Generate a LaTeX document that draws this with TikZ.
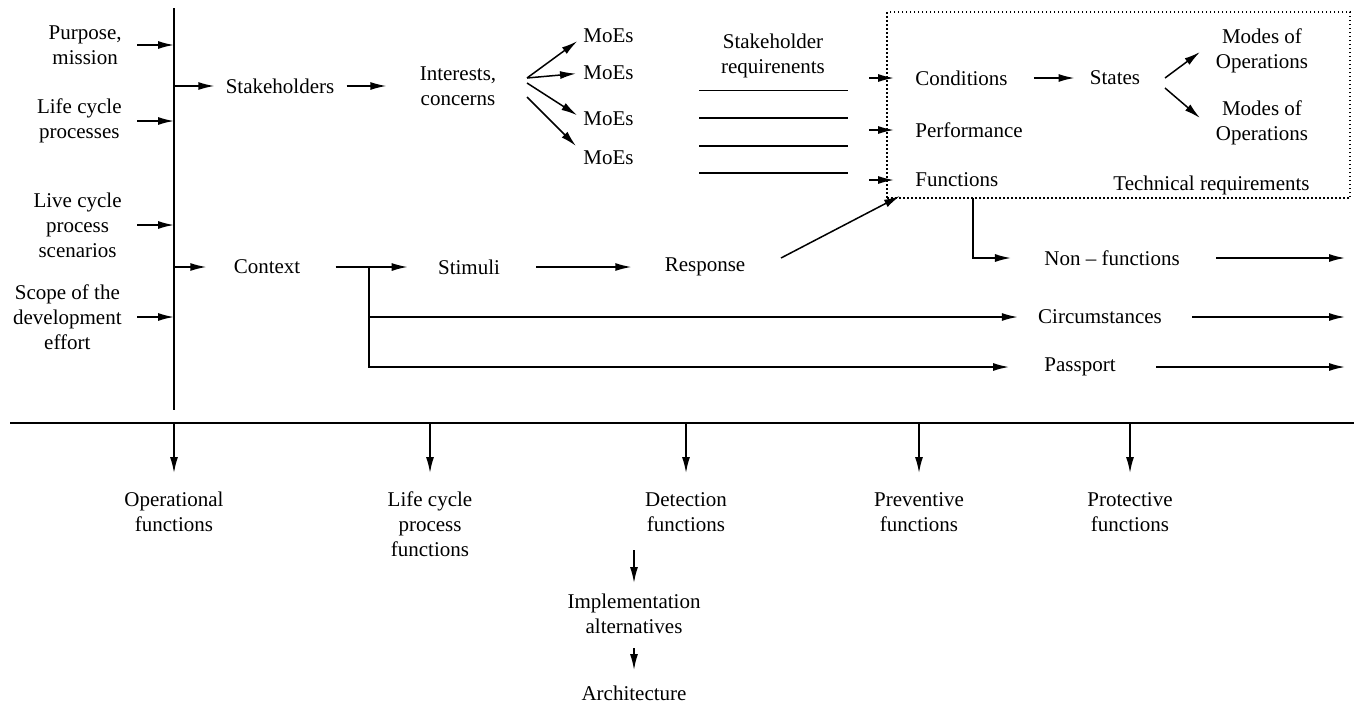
\documentclass[tikz,border=0pt]{standalone}
\usepackage{fontspec}
\setmainfont{Liberation Serif}
\usetikzlibrary{arrows.meta}
\begin{document}
\begin{tikzpicture}[x=0.5pt,y=-0.5pt,
  txt/.style={font=\fontsize{10.5}{12.5}\selectfont, inner sep=0pt, align=center},
  ln/.style={line width=0.75pt},
  arr/.style={ln,-{Latex[length=8pt,width=4pt]}}]
\useasboundingbox (0,0) rectangle (1354,702);

% bus lines
\coordinate (busT) at (174,8);
\coordinate (busB) at (174,410);
\draw[ln] (busT) -- (busB);
\coordinate (hL) at (10,423);
\coordinate (hR) at (1354,423);
\draw[line width=1.2pt] (hL) -- (hR);

% left inputs
\node[txt, anchor=east] (purpose) at (122,45) {Purpose,\\mission};
\node[txt, anchor=east] (lcp) at (122,121) {Life cycle\\processes};
\node[txt, anchor=east] (lcs) at (122,225) {Live cycle\\process\\scenarios};
\node[txt, anchor=east] (scope) at (122,317) {Scope of the\\development\\effort};
\foreach \n in {purpose,lcp,lcs,scope}
  \draw[arr, shorten <=7.5pt] (\n.east) -- (\n.east -| busT);

% stakeholders row
\node[txt] (stake) at (280,86) {Stakeholders};
\node[txt] (inter) at (458,86) {Interests,\\concerns};
\draw[arr, shorten >=5.5pt] (stake -| busT) -- (stake.west);
\draw[arr, shorten <=6pt, shorten >=16.5pt] (stake.east) -- (inter.west);

\node[txt, anchor=west] (m1) at (583,36) {MoEs};
\node[txt, anchor=west] (m2) at (583,73) {MoEs};
\node[txt, anchor=west] (m3) at (583,119) {MoEs};
\node[txt, anchor=west] (m4) at (583,158) {MoEs};
\coordinate (f1) at (527,78);
\coordinate (f3) at (527,83);
\coordinate (f4) at (527,97);
\draw[arr, shorten >=3.5pt] (f1) -- ([yshift=-0.5pt]m1.west);
\draw[arr, shorten >=3.5pt] (f1) -- (m2.west);
\draw[arr, shorten >=3.5pt] (f3) -- (m3.west);
\draw[arr] (f4) -- (576,146);

\node[txt] (sreq) at (773,56) {Stakeholder\\requirenents};
\foreach \yy in {90.5,118,146,173}
  \draw[ln] (699,\yy) -- (848,\yy);

% technical requirements box
\node[draw, ln, dash pattern=on 0.75pt off 1.25pt, inner sep=0pt, minimum width=231.5pt, minimum height=93pt] (tbox) at (1118.5,105) {};
\node[txt, anchor=west] (cond) at (915,78) {Conditions};
\node[txt, anchor=west] (perf) at (915,130) {Performance};
\node[txt, anchor=west] (fun) at (915,180) {Functions};
\node[txt] (states) at (1115,78) {States};
\node[txt] (mo1) at (1262,51) {Modes of\\Operations};
\node[txt] (mo2) at (1262,123) {Modes of\\Operations};
\node[txt, anchor=east] (treq) at (1310,185) {Technical requirements};
\foreach \n in {cond,perf,fun}
  \draw[arr] ([xshift=-23pt]\n.west) -- ([xshift=-10.5pt]\n.west);
\draw[arr, shorten <=13pt, shorten >=7.5pt] (cond.east) -- (states.west);
\coordinate (s1) at (1165,78);
\coordinate (s2) at (1165,88);
\draw[arr] (s1) -- (1200,52);
\draw[arr] (s2) -- (1200,118);

% context row
\node[txt] (ctx) at (267,267) {Context};
\node[txt] (stim) at (469,267) {Stimuli};
\node[txt] (resp) at (705,267) {Response};
\draw[arr, shorten >=13.5pt] (ctx -| busT) -- (ctx.west);
\draw[arr, shorten <=17.5pt, shorten >=15pt] (ctx.east) -- (stim.west);
\draw[arr, shorten <=18pt, shorten >=16.5pt] (stim.east) -- (resp.west);
\coordinate (rs) at (781,258);
\coordinate (fe) at (900,196);
\draw[arr] (rs) -- (fe);

\node[txt] (nonf) at (1112,258) {Non -- functions};
\node[txt] (circ) at (1100,317) {Circumstances};
\node[txt] (pass) at (1080,367) {Passport};
\coordinate (fb) at (973,198);
\draw[arr, shorten >=16.5pt] (fb) |- (nonf.west);
\coordinate (br) at (369,267);
\draw[arr, shorten >=10pt] (br) |- (circ.west);
\draw[arr, shorten >=17.5pt] (br) |- (pass.west);
\coordinate (o1) at (1345,258);
\coordinate (o2) at (1345,317);
\coordinate (o3) at (1345,367);
\draw[arr, shorten <=18pt] (nonf.east) -- (o1);
\draw[arr, shorten <=15pt] (circ.east) -- (o2);
\draw[arr, shorten <=20pt] (pass.east) -- (o3);

% bottom functions
\node[txt] (opf) at (174,512) {Operational\\functions};
\node[txt] (lcf) at (430,524) {Life cycle\\process\\functions};
\node[txt] (det) at (686,512) {Detection\\functions};
\node[txt] (prev) at (919,512) {Preventive\\functions};
\node[txt] (prot) at (1130,512) {Protective\\functions};
\foreach \n in {opf,lcf,det,prev,prot}
  \draw[arr] (\n |- hL) -- ++(0,50);

\node[txt] (impl) at (634,614) {Implementation\\alternatives};
\node[txt] (arch) at (634,693) {Architecture};
\coordinate (d1) at (634,550);
\coordinate (d2) at (634,648);
\draw[arr] (d1) -- (634,583);
\draw[arr] (d2) -- (634,670);
\end{tikzpicture}
\end{document}
